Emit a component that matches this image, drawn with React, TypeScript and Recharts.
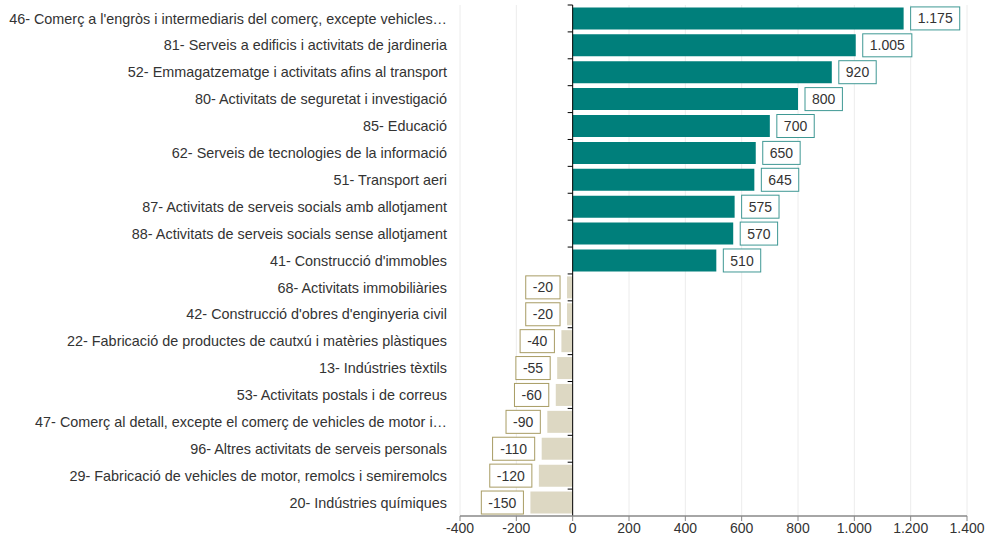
import * as React from 'react';
import {
  BarChart,
  Bar,
  Cell,
  XAxis,
  YAxis,
  CartesianGrid,
  ReferenceLine,
  LabelList,
} from 'recharts';

const categories = [
  "46- Comerç a l'engròs i intermediaris del comerç, excepte vehicles…",
  '81- Serveis a edificis i activitats de jardineria',
  '52- Emmagatzematge i activitats afins al transport',
  '80- Activitats de seguretat i investigació',
  '85- Educació',
  '62- Serveis de tecnologies de la informació',
  '51- Transport aeri',
  '87- Activitats de serveis socials amb allotjament',
  '88- Activitats de serveis socials sense allotjament',
  "41- Construcció d'immobles",
  '68- Activitats immobiliàries',
  "42- Construcció d'obres d'enginyeria civil",
  '22- Fabricació de productes de cautxú i matèries plàstiques',
  '13- Indústries tèxtils',
  '53- Activitats postals i de correus',
  '47- Comerç al detall, excepte el comerç de vehicles de motor i…',
  '96- Altres activitats de serveis personals',
  '29- Fabricació de vehicles de motor, remolcs i semiremolcs',
  '20- Indústries químiques',
];

const values = [
  1175, 1005, 920, 800, 700, 650, 645, 575, 570, 510,
  -20, -20, -40, -55, -60, -90, -110, -120, -150,
];

const xTicks = [-400, -200, 0, 200, 400, 600, 800, 1000, 1200, 1400];

const POS = '#007f7b';
const NEG = '#ddd8c3';
const POS_BORDER = '#3f9894';
const NEG_BORDER = '#a89c64';
const FONT = '"Liberation Sans", Arial, sans-serif';

const data = categories.map((name, i) => ({ name, value: values[i] }));

const fmt = (v: number) => {
  const s = Math.abs(v).toString().replace(/\B(?=(\d{3})+(?!\d))/g, '.');
  return v < 0 ? '-' + s : s;
};

// rough Arial 14px glyph widths
const textWidth = (s: string) =>
  s.split('').reduce((w, c) => w + (c === '.' ? 3.9 : c === '-' ? 4.7 : 7.8), 0);

const ValueBox = (props: any) => {
  const { x, y, width, height, value } = props;
  const label = fmt(value);
  const w = textWidth(label) + 14;
  const h = 23;
  const cy = y + height / 2;
  const gap = 7;
  let bx;
  if (value >= 0) {
    bx = Math.max(x, x + width) + gap;
  } else {
    bx = Math.min(x, x + width) - gap - w;
  }
  return (
    <g>
      <rect
        x={bx}
        y={cy - h / 2}
        width={w}
        height={h}
        fill="#fff"
        stroke={value >= 0 ? POS_BORDER : NEG_BORDER}
        strokeWidth={1}
      />
      <text
        x={bx + w / 2}
        y={cy}
        dy="0.36em"
        textAnchor="middle"
        fontSize={14}
        fontFamily={FONT}
        fill="#333"
      >
        {label}
      </text>
    </g>
  );
};

// zero axis line with ticks at the category boundaries
const ZeroAxis = (props: any) => {
  const { x1, y1, x2, y2 } = props;
  const top = Math.min(y1, y2);
  const bottom = Math.max(y1, y2);
  const step = (bottom - top) / categories.length;
  return (
    <g>
      <line x1={x1} y1={top} x2={x2} y2={bottom} stroke="#000" strokeWidth={1} />
      {categories.map((_, i) => (
        <line
          key={i}
          x1={x1 - 5}
          x2={x1}
          y1={top + i * step}
          y2={top + i * step}
          stroke="#000"
          strokeWidth={1}
        />
      ))}
    </g>
  );
};

export default function App() {
  return (
    <div style={{ position: 'absolute', left: 0, top: 0, width: 987, height: 540, background: '#fff' }}>
      <BarChart
        width={987}
        height={540}
        data={data}
        layout="vertical"
        margin={{ top: 5, right: 20, bottom: 0, left: 0 }}
        barCategoryGap="9%"
      >
        <CartesianGrid horizontal={false} vertical stroke="#ececec" />
        <XAxis
          type="number"
          domain={[-400, 1400]}
          ticks={xTicks}
          interval={0}
          tickFormatter={fmt}
          height={24}
          axisLine={{ stroke: '#888', strokeWidth: 1.5 }}
          tickLine={{ stroke: '#888' }}
          tickSize={5}
          tick={{ fontSize: 14, fontFamily: FONT, fill: '#333' }}
        />
        <YAxis
          type="category"
          dataKey="name"
          width={460}
          interval={0}
          axisLine={false}
          tickLine={false}
          tickSize={0}
          tickMargin={13}
          tick={{ fontSize: 14.4, fontFamily: FONT, fill: '#333' }}
        />
        <Bar dataKey="value" isAnimationActive={false}>
          {data.map((d, i) => (
            <Cell key={i} fill={d.value >= 0 ? POS : NEG} />
          ))}
          <LabelList dataKey="value" content={ValueBox} />
        </Bar>
        <ReferenceLine x={0} shape={ZeroAxis} />
      </BarChart>
    </div>
  );
}
